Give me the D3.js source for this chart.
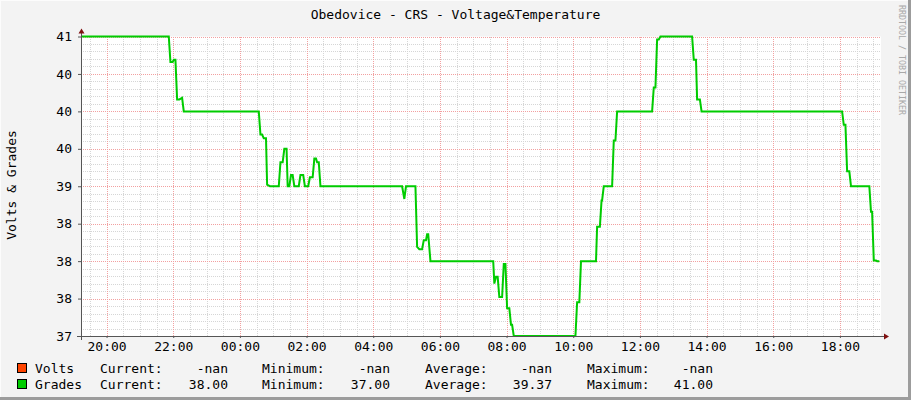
<!DOCTYPE html>
<html lang="en">
<head>
<meta charset="UTF-8">
<title>Obedovice - CRS - Voltage&amp;Temperature</title>
<script src="https://d3js.org/d3.v7.min.js"></script>
<style>
  body { margin: 0; background: #f3f3f3; }
  svg { display: block; }
  svg text { font-family: "DejaVu Sans Mono", monospace; fill: #000; }
</style>
</head>
<body>
<svg width="911" height="400"></svg>
<script>
// window runs 19:14 -> 19:14 next day
const windowStart = "19:14";
const windowEnd = "19:14";

// Grades series (HH:MM, value)
const times = [
  "19:14", "21:52", "21:55", "21:59", "22:01", "22:04", "22:07", "22:11", "22:16", "22:19",
  "00:34", "00:37", "00:40", "00:43", "00:47", "00:49", "00:54", "01:10", "01:13", "01:17",
  "01:20", "01:24", "01:26", "01:29", "01:32", "01:35", "01:38", "01:46", "01:49", "01:54",
  "01:57", "02:03", "02:06", "02:11", "02:14", "02:17", "02:19", "02:22", "02:25", "04:52",
  "04:56", "04:59", "05:16", "05:19", "05:23", "05:28", "05:31", "05:35", "05:37", "05:39",
  "05:43", "07:36", "07:38", "07:41", "07:44", "07:47", "07:52", "07:55", "07:58", "08:01",
  "08:05", "08:08", "08:10", "08:13", "10:04", "10:07", "10:11", "10:14", "10:41", "10:43",
  "10:48", "10:51", "10:52", "10:55", "11:10", "11:13", "11:16", "11:19", "12:22", "12:25",
  "12:28", "12:31", "12:34", "12:37", "13:34", "13:37", "13:41", "13:43", "13:48", "13:51",
  "18:04", "18:07", "18:10", "18:13", "18:17", "18:20", "18:53", "18:56", "18:58", "19:01",
  "19:05", "19:07", "19:11"
];
const grades = [
  41.00, 41.00, 40.66, 40.66, 40.69, 40.69, 40.16, 40.16, 40.18, 40.00,
  40.00, 39.69, 39.69, 39.64, 39.64, 39.02, 39.00, 39.00, 39.32, 39.32,
  39.50, 39.50, 39.00, 39.00, 39.15, 39.15, 39.00, 39.00, 39.15, 39.15,
  39.00, 39.00, 39.12, 39.12, 39.37, 39.37, 39.32, 39.32, 39.00, 39.00,
  38.83, 39.00, 39.00, 38.19, 38.16, 38.16, 38.28, 38.28, 38.36, 38.36,
  38.00, 38.00, 37.70, 37.79, 37.79, 37.52, 37.52, 37.96, 37.96, 37.37,
  37.37, 37.15, 37.15, 37.00, 37.00, 37.45, 37.45, 38.00, 38.00, 38.46,
  38.46, 38.81, 38.81, 39.00, 39.00, 39.61, 39.61, 40.00, 40.00, 40.32,
  40.32, 40.96, 40.96, 41.00, 41.00, 40.69, 40.69, 40.16, 40.16, 40.00,
  40.00, 39.82, 39.82, 39.20, 39.20, 39.00, 39.00, 38.66, 38.66, 38.01,
  38.01, 38.00, 38.00
];

const yTicks = [37, 37.5, 38, 38.5, 39, 39.5, 40, 40.5, 41];
const yTickLabels = ["37", "38", "38", "38", "39", "40", "40", "40", "41"];

const seriesNames = ["Volts", "Grades"];
const current = ["-nan", "38.00"];
const minimum = ["-nan", "37.00"];
const average = ["-nan", "39.37"];
const maximum = ["-nan", "41.00"];

// turn HH:MM into dates, rolling over midnight
function toDate(s, nextDay) {
  const [h, m] = s.split(":").map(Number);
  return new Date(2024, 0, nextDay ? 2 : 1, h, m);
}
const startMin = +windowStart.split(":")[0] * 60 + +windowStart.split(":")[1];
const data = times.map((t, i) => {
  const [h, m] = t.split(":").map(Number);
  const afterMidnight = h * 60 + m < startMin || (i > 0 && h < 19);
  return { date: toDate(t, afterMidnight), value: grades[i] };
});

const svg = d3.select("svg");
const W = 911, H = 400;
const plot = { left: 81, right: 881, top: 36.5, bottom: 336 };

// frame
svg.append("rect").attr("width", W).attr("height", H).attr("fill", "#f3f3f3");
svg.append("rect").attr("x", 0).attr("y", 0).attr("width", W).attr("height", 1).attr("fill", "#fcfcfc");
svg.append("rect").attr("x", 0).attr("y", 0).attr("width", 1).attr("height", H).attr("fill", "#fcfcfc");
svg.append("rect").attr("x", W - 3).attr("y", 0).attr("width", 3).attr("height", H).attr("fill", "#9c9c9c");
svg.append("rect").attr("x", 0).attr("y", H - 3).attr("width", W).attr("height", 3).attr("fill", "#9c9c9c");

svg.append("rect")
    .attr("x", plot.left).attr("y", plot.top)
    .attr("width", plot.right - plot.left).attr("height", plot.bottom - plot.top)
    .attr("fill", "#fff");

const x = d3.scaleTime()
    .domain([toDate(windowStart, false), toDate(windowEnd, true)])
    .range([plot.left, plot.right]);
const y = d3.scaleLinear()
    .domain([37, 41])
    .range([plot.bottom, plot.top]);

// grid
const grid = svg.append("g").attr("shape-rendering", "crispEdges");
const minorX = x.ticks(d3.timeMinute.every(30));
const majorX = x.ticks(d3.timeHour.every(2));
const minorY = d3.range(370, 411).map(d => d / 10);

grid.selectAll(".vmin").data(minorX).enter().append("line")
    .attr("x1", d => Math.round(x(d)) + 0.5).attr("x2", d => Math.round(x(d)) + 0.5)
    .attr("y1", plot.top).attr("y2", plot.bottom)
    .attr("stroke", "#d6d6d6").attr("stroke-dasharray", "1,1");
grid.selectAll(".hmin").data(minorY).enter().append("line")
    .attr("x1", plot.left).attr("x2", plot.right)
    .attr("y1", d => Math.round(y(d)) + 0.5).attr("y2", d => Math.round(y(d)) + 0.5)
    .attr("stroke", "#d6d6d6").attr("stroke-dasharray", "1,1");
grid.selectAll(".vmaj").data(majorX).enter().append("line")
    .attr("x1", d => Math.round(x(d)) + 0.5).attr("x2", d => Math.round(x(d)) + 0.5)
    .attr("y1", plot.top).attr("y2", plot.bottom)
    .attr("stroke", "#f2a0a0").attr("stroke-dasharray", "1,1");
grid.selectAll(".hmaj").data(yTicks).enter().append("line")
    .attr("x1", plot.left).attr("x2", plot.right)
    .attr("y1", d => Math.round(y(d)) + 0.5).attr("y2", d => Math.round(y(d)) + 0.5)
    .attr("stroke", "#f2a0a0").attr("stroke-dasharray", "1,1");

// the series
svg.append("path")
    .datum(data)
    .attr("fill", "none")
    .attr("stroke", "#00cc00")
    .attr("stroke-width", 2)
    .attr("d", d3.line().x(d => x(d.date)).y(d => y(d.value)));

// axes
const yAxis = svg.append("g")
    .attr("transform", `translate(${plot.left},0)`)
    .call(d3.axisLeft(y).tickValues(yTicks)
        .tickFormat((d, i) => yTickLabels[i])
        .tickSize(3).tickSizeOuter(0).tickPadding(6));
const xAxis = svg.append("g")
    .attr("transform", `translate(0,${plot.bottom})`)
    .call(d3.axisBottom(x).ticks(d3.timeHour.every(2))
        .tickFormat(d3.timeFormat("%H:%M"))
        .tickSize(2).tickSizeOuter(0).tickPadding(4));
[yAxis, xAxis].forEach(a => {
  a.select(".domain").remove();
  a.selectAll("line").attr("stroke", "#555");
  a.selectAll("text").attr("font-family", "DejaVu Sans Mono").attr("font-size", 13).attr("fill", "#000");
});

svg.append("line")
    .attr("x1", plot.left + 0.5).attr("x2", plot.left + 0.5)
    .attr("y1", plot.bottom + 4).attr("y2", plot.top - 4)
    .attr("stroke", "#555");
svg.append("line")
    .attr("x1", plot.left - 4).attr("x2", plot.right + 4)
    .attr("y1", plot.bottom + 0.5).attr("y2", plot.bottom + 0.5)
    .attr("stroke", "#555");
svg.append("path")
    .attr("d", `M${plot.left - 2.5},${plot.top - 3} L${plot.left + 3.5},${plot.top - 3} L${plot.left + 0.5},${plot.top - 8} Z`)
    .attr("fill", "#7f1010");
svg.append("path")
    .attr("d", `M${plot.right + 3},${plot.bottom - 2.5} L${plot.right + 3},${plot.bottom + 3.5} L${plot.right + 8},${plot.bottom + 0.5} Z`)
    .attr("fill", "#7f1010");

// title and side texts
svg.append("text")
    .attr("x", 455.5).attr("y", 19)
    .attr("text-anchor", "middle").attr("font-size", 13)
    .text("Obedovice - CRS - Voltage&Temperature");
svg.append("text")
    .attr("transform", "translate(16,185) rotate(-90)")
    .attr("text-anchor", "middle").attr("font-size", 13)
    .text("Volts & Grades");
svg.append("text")
    .attr("transform", "translate(899,5) rotate(90)")
    .attr("font-size", 8.3).style("fill", "#a8a8a8")
    .text("RRDTOOL / TOBI OETIKER");

// legend
const legendColors = ["#ff4400", "#00cc00"];
const legend = svg.append("g").attr("font-size", 13);
seriesNames.forEach((name, i) => {
  const by = 372.5 + i * 16;
  legend.append("rect")
      .attr("x", 17.5).attr("y", by - 9)
      .attr("width", 9).attr("height", 9)
      .attr("fill", legendColors[i]).attr("stroke", "#000");
  legend.append("text").attr("x", 35).attr("y", by).text(name);
  legend.append("text").attr("x", 100).attr("y", by).text("Current:");
  legend.append("text").attr("x", 228).attr("y", by).attr("text-anchor", "end").text(current[i]);
  legend.append("text").attr("x", 262).attr("y", by).text("Minimum:");
  legend.append("text").attr("x", 390).attr("y", by).attr("text-anchor", "end").text(minimum[i]);
  legend.append("text").attr("x", 425).attr("y", by).text("Average:");
  legend.append("text").attr("x", 552).attr("y", by).attr("text-anchor", "end").text(average[i]);
  legend.append("text").attr("x", 587).attr("y", by).text("Maximum:");
  legend.append("text").attr("x", 713).attr("y", by).attr("text-anchor", "end").text(maximum[i]);
});
</script>
</body>
</html>
